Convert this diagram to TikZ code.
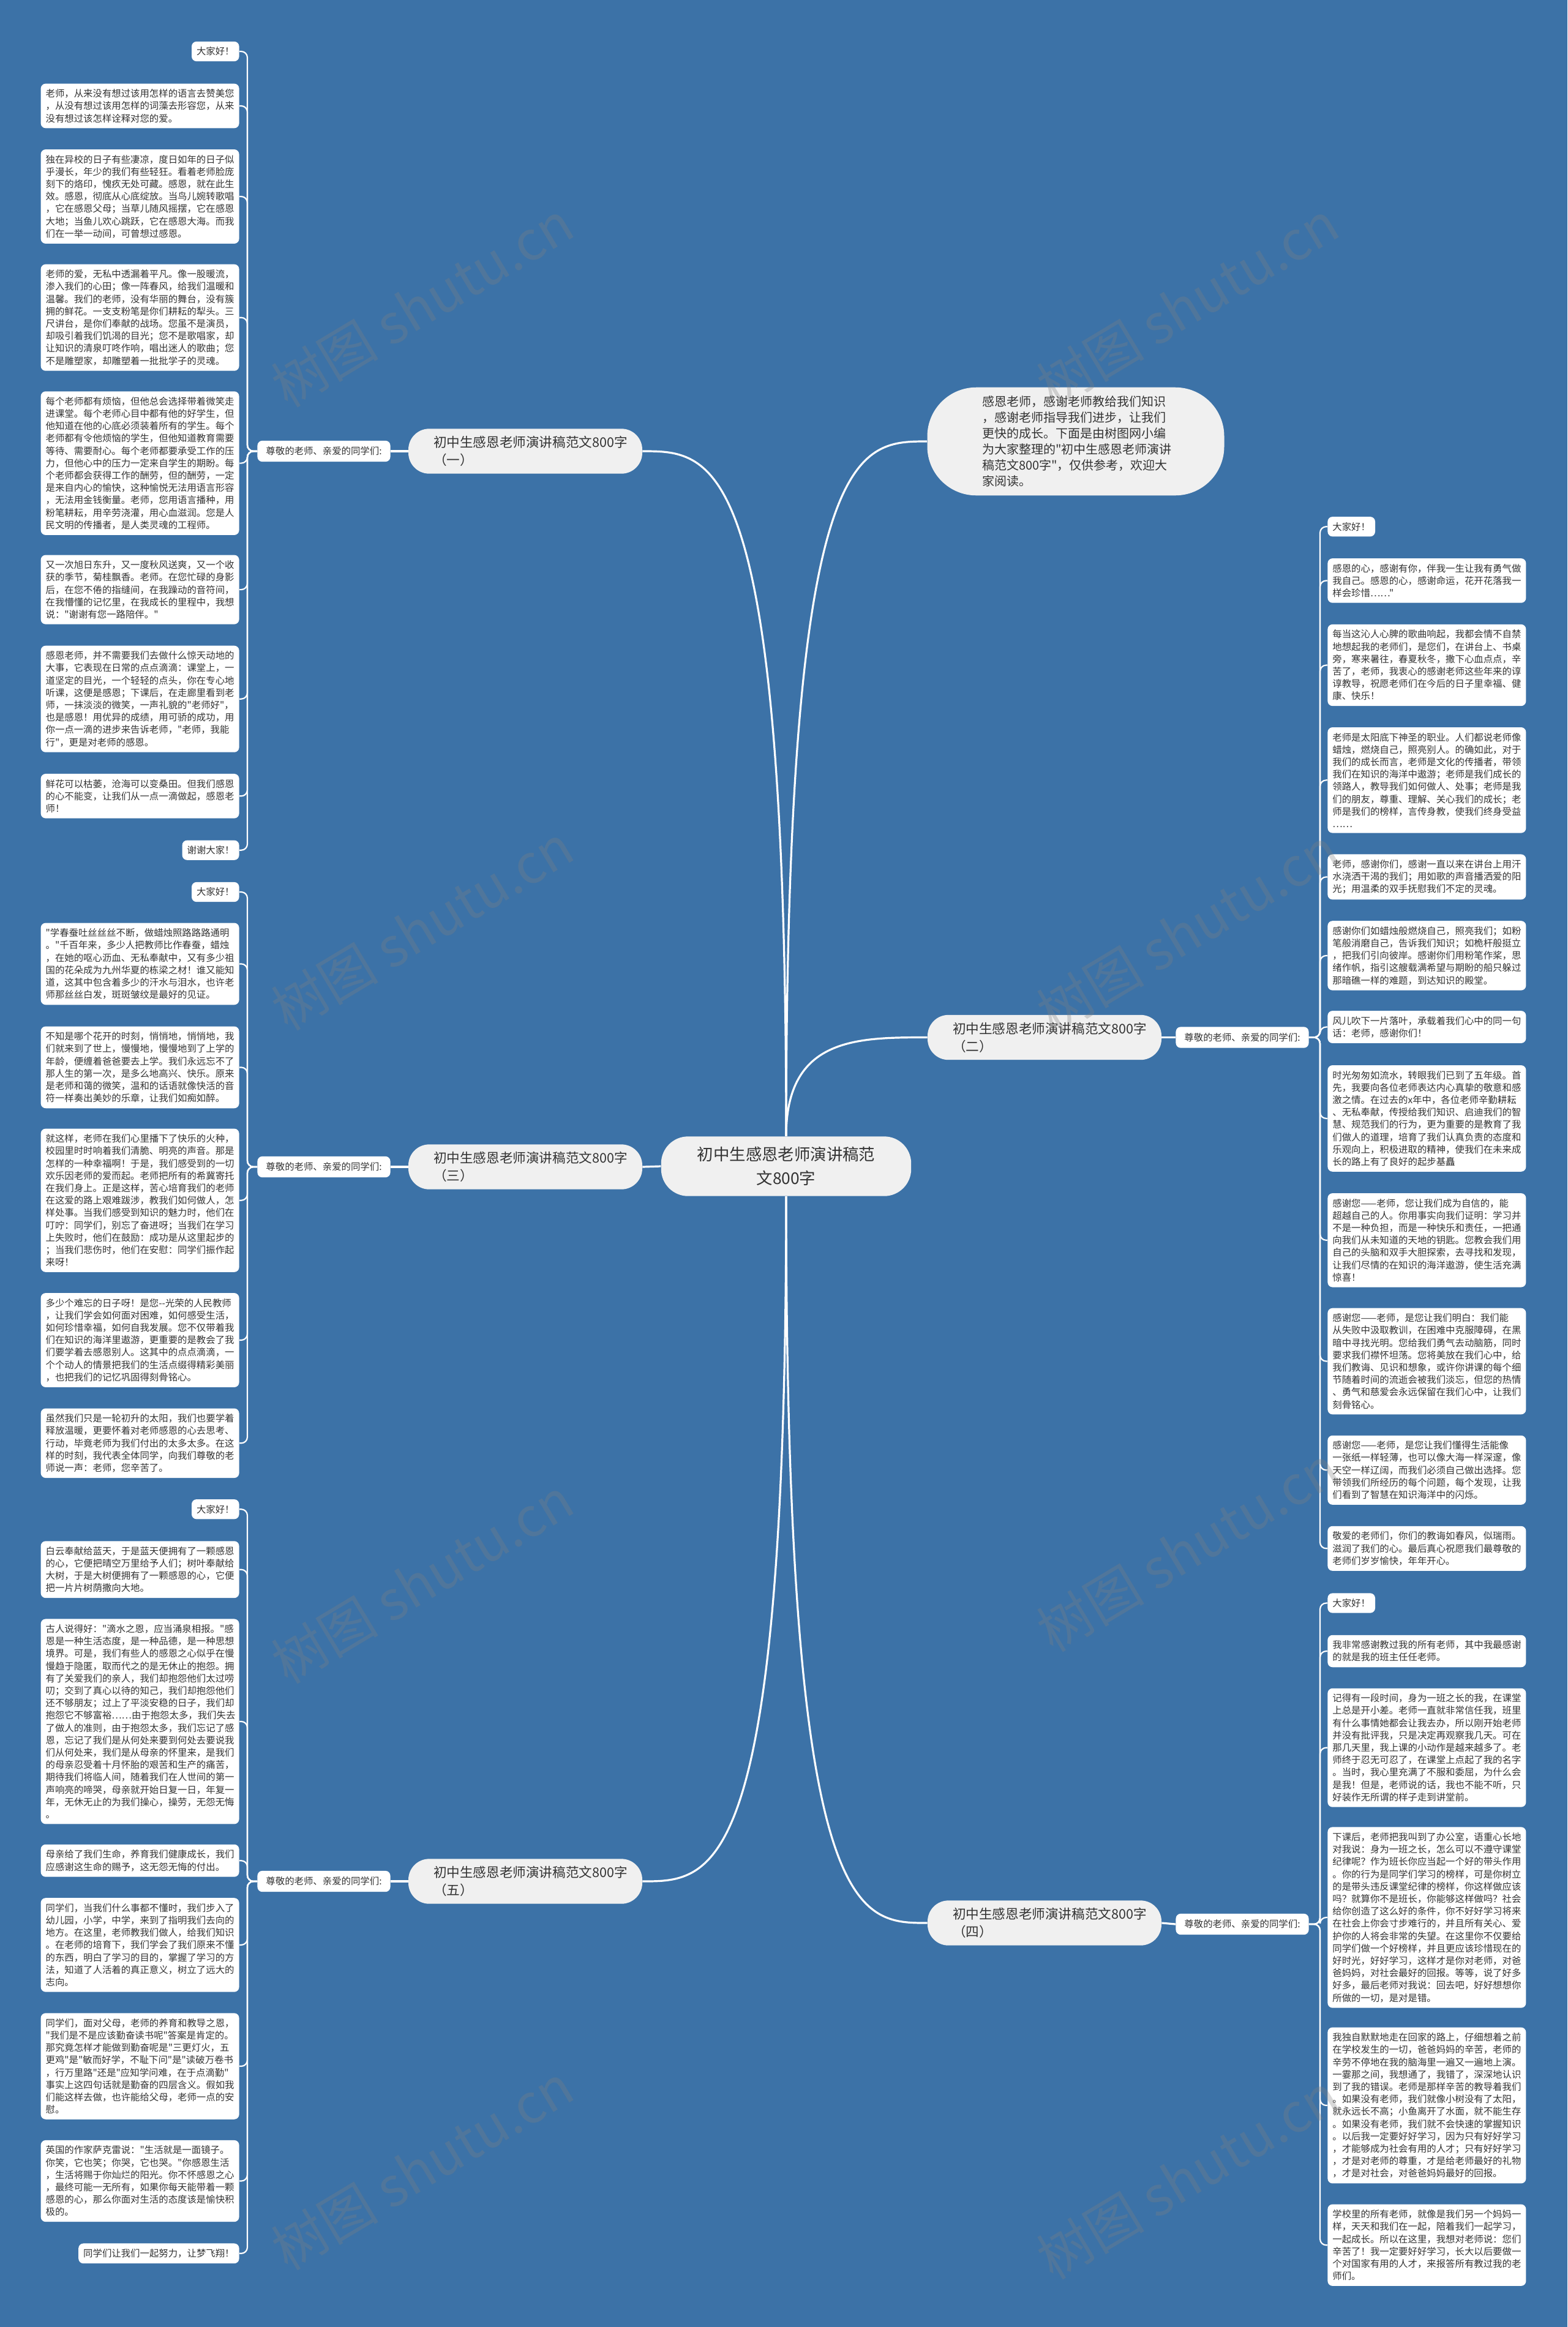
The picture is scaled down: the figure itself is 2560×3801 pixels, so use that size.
\documentclass[tikz,border=0pt]{standalone}
\usepackage{fontspec}
\newfontfamily\cjk{Noto Sans CJK SC}
\usetikzlibrary{calc}
\definecolor{bgblue}{HTML}{3C72A7}
\definecolor{nodegray}{HTML}{F0F0F0}
\definecolor{txt}{HTML}{333333}
\tikzset{
 blk/.style={fill=white, rounded corners=4pt, text width=154pt, align=left, inner xsep=4pt, inner ysep=4.5pt, font=\cjk\fontsize{7.7pt}{10.1pt}\selectfont, text=txt},
 sblk/.style={fill=white, rounded corners=4pt, inner xsep=4pt, inner ysep=4.5pt, font=\cjk\fontsize{7.7pt}{10.1pt}\selectfont, text=txt},
 lab/.style={fill=white, rounded corners=4pt, inner xsep=7pt, inner ysep=5pt, font=\cjk\fontsize{7.7pt}{10.1pt}\selectfont, text=txt},
 brn/.style={fill=nodegray, rounded corners=17pt, text width=150pt, align=left, inner xsep=20.5pt, inner ysep=6pt, font=\cjk\fontsize{10.8pt}{14.5pt}\selectfont, text=txt},
 ctrs/.style={fill=nodegray, rounded corners=22pt, align=center, inner xsep=29.5pt, inner ysep=8.5pt, font=\cjk\fontsize{13.2pt}{19.5pt}\selectfont, text=txt},
 intros/.style={fill=nodegray, rounded corners=40pt, text width=153pt, align=left, inner xsep=44.75pt, inner ysep=7pt, font=\cjk\fontsize{10pt}{13pt}\selectfont, text=txt},
 mc/.style={draw=white, line width=1.6pt},
 bc/.style={draw=white, line width=1.1pt, rounded corners=5pt},
 wm/.style={text=gray, text opacity=0.3, font=\cjk\fontsize{44pt}{50pt}\selectfont, rotate=31},
}
\begin{document}
\begin{tikzpicture}[x=0.5pt, y=-0.5pt]
\path[use as bounding box] (0,0) rectangle (2560,3801);
\fill[bgblue] (0,0) rectangle (2560,3801);

% ---------- center, intro, branches ----------
\node[ctrs] (ctr) at (1284,1905) {初中生感恩老师演讲稿范\\文800字};
\node[intros] (intro) at (1757,721) {感恩老师，感谢老师教给我们知识\\，感谢老师指导我们进步，让我们\\更快的成长。下面是由树图网小编\\为大家整理的"初中生感恩老师演讲\\稿范文800字"，仅供参考，欢迎大\\家阅读。};
\node[brn] (brA) at (858,737) {初中生感恩老师演讲稿范文800字\\（一）};
\node[brn] (brC) at (858,1906) {初中生感恩老师演讲稿范文800字\\（三）};
\node[brn] (brE) at (858,3073) {初中生感恩老师演讲稿范文800字\\（五）};
\node[brn] (brB) at (1706,1694.5) {初中生感恩老师演讲稿范文800字\\（二）};
\node[brn] (brD) at (1706,3141) {初中生感恩老师演讲稿范文800字\\（四）};

\node[lab] (labA) at (529,737) {尊敬的老师、亲爱的同学们:};
\node[lab] (labC) at (529,1906) {尊敬的老师、亲爱的同学们:};
\node[lab] (labE) at (529,3073) {尊敬的老师、亲爱的同学们:};
\node[lab] (labB) at (2029,1694.5) {尊敬的老师、亲爱的同学们:};
\node[lab] (labD) at (2029,3143) {尊敬的老师、亲爱的同学们:};

\coordinate (jA) at (404,737);
\coordinate (jC) at (404,1906);
\coordinate (jE) at (404,3073);
\coordinate (jB) at (2156,1694.5);
\coordinate (jD) at (2156,3143);

% ---------- group A (left, 一) ----------
\node[sblk, anchor=east] (a0) at (391,84) {大家好！};
\node[blk, anchor=east] (a1) at (391,173) {老师，从来没有想过该用怎样的语言去赞美您\\，从没有想过该用怎样的词藻去形容您，从来\\没有想过该怎样诠释对您的爱。};
\node[blk, anchor=east] (a2) at (391,321) {独在异校的日子有些凄凉，度日如年的日子似\\乎漫长，年少的我们有些轻狂。看着老师脸庞\\刻下的烙印，愧疚无处可藏。感恩，就在此生\\效。感恩，彻底从心底绽放。当鸟儿婉转歌唱\\，它在感恩父母；当草儿随风摇摆，它在感恩\\大地；当鱼儿欢心跳跃，它在感恩大海。而我\\们在一举一动间，可曾想过感恩。};
\node[blk, anchor=east] (a3) at (391,518.7) {老师的爱，无私中透漏着平凡。像一股暖流，\\渗入我们的心田；像一阵春风，给我们温暖和\\温馨。我们的老师，没有华丽的舞台，没有簇\\拥的鲜花。一支支粉笔是你们耕耘的犁头。三\\尺讲台，是你们奉献的战场。您虽不是演员，\\却吸引着我们饥渴的目光；您不是歌唱家，却\\让知识的清泉叮咚作响，唱出迷人的歌曲；您\\不是雕塑家，却雕塑着一批批学子的灵魂。};
\node[blk, anchor=east] (a4) at (391,756.6) {每个老师都有烦恼，但他总会选择带着微笑走\\进课堂。每个老师心目中都有他的好学生，但\\他知道在他的心底必须装着所有的学生。每个\\老师都有令他烦恼的学生，但他知道教育需要\\等待、需要耐心。每个老师都要承受工作的压\\力，但他心中的压力一定来自学生的期盼。每\\个老师都会获得工作的酬劳，但的酬劳，一定\\是来自内心的愉快，这种愉悦无法用语言形容\\，无法用金钱衡量。老师，您用语言播种，用\\粉笔耕耘，用辛劳浇灌，用心血滋润。您是人\\民文明的传播者，是人类灵魂的工程师。};
\node[blk, anchor=east] (a5) at (391,963.1) {又一次旭日东升，又一度秋风送爽，又一个收\\获的季节，菊桂飘香。老师。在您忙碌的身影\\后，在您不倦的指缝间，在我躁动的音符间，\\在我懵懂的记忆里，在我成长的里程中，我想\\说："谢谢有您一路陪伴。"};
\node[blk, anchor=east] (a6) at (391,1141.7) {感恩老师，并不需要我们去做什么惊天动地的\\大事，它表现在日常的点点滴滴：课堂上，一\\道坚定的目光，一个轻轻的点头，你在专心地\\听课，这便是感恩；下课后，在走廊里看到老\\师，一抹淡淡的微笑，一声礼貌的"老师好"，\\也是感恩！用优异的成绩，用可骄的成功，用\\你一点一滴的进步来告诉老师，"老师，我能\\行"，更是对老师的感恩。};
\node[blk, anchor=east] (a7) at (391,1300.3) {鲜花可以枯萎，沧海可以变桑田。但我们感恩\\的心不能变，让我们从一点一滴做起，感恩老\\师！};
\node[sblk, anchor=east] (a8) at (391,1388.7) {谢谢大家！};

% ---------- group C (left, 三) ----------
\node[sblk, anchor=east] (c0) at (391,1457) {大家好！};
\node[blk, anchor=east] (c1) at (391,1574.4) {"学春蚕吐丝丝丝不断，做蜡烛照路路路通明\\。"千百年来，多少人把教师比作春蚕，蜡烛\\，在她的呕心沥血、无私奉献中，又有多少祖\\国的花朵成为九州华夏的栋梁之材！谁又能知\\道，这其中包含着多少的汗水与泪水，也许老\\师那丝丝白发，斑斑皱纹是最好的见证。};
\node[blk, anchor=east] (c2) at (391,1743.4) {不知是哪个花开的时刻，悄悄地，悄悄地，我\\们就来到了世上，慢慢地，慢慢地到了上学的\\年龄，便缠着爸爸要去上学。我们永远忘不了\\那人生的第一次，是多么地高兴、快乐。原来\\是老师和蔼的微笑，温和的话语就像快活的音\\符一样奏出美妙的乐章，让我们如痴如醉。};
\node[blk, anchor=east] (c3) at (391,1960.7) {就这样，老师在我们心里播下了快乐的火种，\\校园里时时响着我们清脆、明亮的声音。那是\\怎样的一种幸福啊！于是，我们感受到的一切\\欢乐因老师的爱而起。老师把所有的希冀寄托\\在我们身上。正是这样，苦心培育我们的老师\\在这爱的路上艰难跋涉，教我们如何做人，怎\\样处事。当我们感受到知识的魅力时，他们在\\叮咛：同学们，别忘了奋进呀；当我们在学习\\上失败时，他们在鼓励：成功是从这里起步的\\；当我们悲伤时，他们在安慰：同学们振作起\\来呀！};
\node[blk, anchor=east] (c4) at (391,2189) {多少个难忘的日子呀！是您--光荣的人民教师\\，让我们学会如何面对困难，如何感受生活，\\如何珍惜幸福，如何自我发展。您不仅带着我\\们在知识的海洋里遨游，更重要的是教会了我\\们要学着去感恩别人。这其中的点点滴滴，一\\个个动人的情景把我们的生活点缀得精彩美丽\\，也把我们的记忆巩固得刻骨铭心。};
\node[blk, anchor=east] (c5) at (391,2357.3) {虽然我们只是一轮初升的太阳，我们也要学着\\释放温暖，更要怀着对老师感恩的心去思考、\\行动，毕竟老师为我们付出的太多太多。在这\\样的时刻，我代表全体同学，向我们尊敬的老\\师说一声：老师，您辛苦了。};

% ---------- group E (left, 五) ----------
\node[sblk, anchor=east] (e0) at (391,2465.2) {大家好！};
\node[blk, anchor=east] (e1) at (391,2563.7) {白云奉献给蓝天，于是蓝天便拥有了一颗感恩\\的心，它便把晴空万里给予人们；树叶奉献给\\大树，于是大树便拥有了一颗感恩的心，它便\\把一片片树荫撒向大地。};
\node[blk, anchor=east] (e2) at (391,2811.9) {古人说得好："滴水之恩，应当涌泉相报。"感\\恩是一种生活态度，是一种品德，是一种思想\\境界。可是，我们有些人的感恩之心似乎在慢\\慢趋于隐匿，取而代之的是无休止的抱怨。拥\\有了关爱我们的亲人，我们却抱怨他们太过唠\\叨；交到了真心以待的知己，我们却抱怨他们\\还不够朋友；过上了平淡安稳的日子，我们却\\抱怨它不够富裕……由于抱怨太多，我们失去\\了做人的准则，由于抱怨太多，我们忘记了感\\恩，忘记了我们是从何处来要到何处去要说我\\们从何处来，我们是从母亲的怀里来，是我们\\的母亲忍受着十月怀胎的艰苦和生产的痛苦，\\期待我们将临人间，随着我们在人世间的第一\\声响亮的啼哭，母亲就开始日复一日，年复一\\年，无休无止的为我们操心，操劳，无怨无悔\\。};
\node[blk, anchor=east] (e3) at (391,3039.2) {母亲给了我们生命，养育我们健康成长，我们\\应感谢这生命的赐予，这无怨无悔的付出。};
\node[blk, anchor=east] (e4) at (391,3176.9) {同学们，当我们什么事都不懂时，我们步入了\\幼儿园，小学，中学，来到了指明我们去向的\\地方。在这里，老师教我们做人，给我们知识\\。在老师的培育下，我们学会了我们原来不懂\\的东西，明白了学习的目的，掌握了学习的方\\法，知道了人活着的真正意义，树立了远大的\\志向。};
\node[blk, anchor=east] (e5) at (391,3375) {同学们，面对父母，老师的养育和教导之恩，\\"我们是不是应该勤奋读书呢"答案是肯定的。\\那究竟怎样才能做到勤奋呢是"三更灯火，五\\更鸡"是"敏而好学，不耻下问"是"读破万卷书\\，行万里路"还是"应知学问难，在于点滴勤"\\事实上这四句话就是勤奋的四层含义。假如我\\们能这样去做，也许能给父母，老师一点的安\\慰。};
\node[blk, anchor=east] (e6) at (391,3562.5) {英国的作家萨克雷说："生活就是一面镜子。\\你笑，它也笑；你哭，它也哭。"你感恩生活\\，生活将赐于你灿烂的阳光。你不怀感恩之心\\，最终可能一无所有，如果你每天能带着一颗\\感恩的心，那么你面对生活的态度该是愉快积\\极的。};
\node[sblk, anchor=east] (e7) at (391,3680.8) {同学们让我们一起努力，让梦飞翔！};

% ---------- group B (right, 二) ----------
\node[sblk, anchor=west] (b0) at (2168,860.2) {大家好！};
\node[blk, anchor=west] (b1) at (2168,948.4) {感恩的心，感谢有你，伴我一生让我有勇气做\\我自己。感恩的心，感谢命运，花开花落我一\\样会珍惜……"};
\node[blk, anchor=west] (b2) at (2168,1086.5) {每当这沁人心脾的歌曲响起，我都会情不自禁\\地想起我的老师们，是您们，在讲台上、书桌\\旁，寒来暑往，春夏秋冬，撒下心血点点，辛\\苦了，老师，我衷心的感谢老师这些年来的谆\\谆教导，祝愿老师们在今后的日子里幸福、健\\康、快乐！};
\node[blk, anchor=west] (b3) at (2168,1274.3) {老师是太阳底下神圣的职业。人们都说老师像\\蜡烛，燃烧自己，照亮别人。的确如此，对于\\我们的成长而言，老师是文化的传播者，带领\\我们在知识的海洋中遨游；老师是我们成长的\\领路人，教导我们如何做人、处事；老师是我\\们的朋友，尊重、理解、关心我们的成长；老\\师是我们的榜样，言传身教，使我们终身受益\\……};
\node[blk, anchor=west] (b4) at (2168,1432.4) {老师，感谢你们，感谢一直以来在讲台上用汗\\水浇洒干渴的我们；用如歌的声音播洒爱的阳\\光；用温柔的双手抚慰我们不定的灵魂。};
\node[blk, anchor=west] (b5) at (2168,1560.9) {感谢你们如蜡烛般燃烧自己，照亮我们；如粉\\笔般消磨自己，告诉我们知识；如桅杆般挺立\\，把我们引向彼岸。感谢你们用粉笔作桨，思\\绪作帆，指引这艘载满希望与期盼的船只躲过\\那暗礁一样的难题，到达知识的殿堂。};
\node[blk, anchor=west] (b6) at (2168,1677.5) {风儿吹下一片落叶，承载着我们心中的同一句\\话：老师，感谢你们！};
\node[blk, anchor=west] (b7) at (2168,1826.9) {时光匆匆如流水，转眼我们已到了五年级。首\\先，我要向各位老师表达内心真挚的敬意和感\\激之情。在过去的x年中，各位老师辛勤耕耘\\、无私奉献，传授给我们知识、启迪我们的智\\慧、规范我们的行为，更为重要的是教育了我\\们做人的道理，培育了我们认真负责的态度和\\乐观向上，积极进取的精神，使我们在未来成\\长的路上有了良好的起步基矗};
\node[blk, anchor=west] (b8) at (2168,2025.8) {感谢您——老师，您让我们成为自信的，能\\超越自己的人。你用事实向我们证明：学习并\\不是一种负担，而是一种快乐和责任，一把通\\向我们从未知道的天地的钥匙。您教会我们用\\自己的头脑和双手大胆探索，去寻找和发现，\\让我们尽情的在知识的海洋遨游，使生活充满\\惊喜！};
\node[blk, anchor=west] (b9) at (2168,2223.5) {感谢您——老师，是您让我们明白：我们能\\从失败中汲取教训，在困难中克服障碍，在黑\\暗中寻找光明。您给我们勇气去动脑筋，同时\\要求我们襟怀坦荡。您将美放在我们心中，给\\我们教诲、见识和想象，或许你讲课的每个细\\节随着时间的流逝会被我们淡忘，但您的热情\\、勇气和慈爱会永远保留在我们心中，让我们\\刻骨铭心。};
\node[blk, anchor=west] (b10) at (2168,2401.3) {感谢您——老师，是您让我们懂得生活能像\\一张纸一样轻薄，也可以像大海一样深邃，像\\天空一样辽阔，而我们必须自己做出选择。您\\带领我们所经历的每个问题，每个发现，让我\\们看到了智慧在知识海洋中的闪烁。};
\node[blk, anchor=west] (b11) at (2168,2529.3) {敬爱的老师们，你们的教诲如春风，似瑞雨。\\滋润了我们的心。最后真心祝愿我们最尊敬的\\老师们岁岁愉快，年年开心。};

% ---------- group D (right, 四) ----------
\node[sblk, anchor=west] (d0) at (2168,2618.5) {大家好！};
\node[blk, anchor=west] (d1) at (2168,2697) {我非常感谢教过我的所有老师，其中我最感谢\\的就是我的班主任任老师。};
\node[blk, anchor=west] (d2) at (2168,2854.7) {记得有一段时间，身为一班之长的我，在课堂\\上总是开小差。老师一直就非常信任我，班里\\有什么事情她都会让我去办，所以刚开始老师\\并没有批评我，只是决定再观察我几天。可在\\那几天里，我上课的小动作是越来越多了。老\\师终于忍无可忍了，在课堂上点起了我的名字\\。当时，我心里充满了不服和委屈，为什么会\\是我！但是，老师说的话，我也不能不听，只\\好装作无所谓的样子走到讲堂前。};
\node[blk, anchor=west] (d3) at (2168,3132) {下课后，老师把我叫到了办公室，语重心长地\\对我说：身为一班之长，怎么可以不遵守课堂\\纪律呢？作为班长你应当起一个好的带头作用\\。你的行为是同学们学习的榜样，可是你树立\\的是带头违反课堂纪律的榜样，你这样做应该\\吗？就算你不是班长，你能够这样做吗？社会\\给你创造了这么好的条件，你不好好学习将来\\在社会上你会寸步难行的，并且所有关心、爱\\护你的人将会非常的失望。在这里你不仅要给\\同学们做一个好榜样，并且更应该珍惜现在的\\好时光，好好学习，这样才是你对老师，对爸\\爸妈妈，对社会最好的回报。等等，说了好多\\好多，最后老师对我说：回去吧，好好想想你\\所做的一切，是对是错。};
\node[blk, anchor=west] (d4) at (2168,3439) {我独自默默地走在回家的路上，仔细想着之前\\在学校发生的一切，爸爸妈妈的辛苦，老师的\\辛劳不停地在我的脑海里一遍又一遍地上演。\\一霎那之间，我想通了，我错了，深深地认识\\到了我的错误。老师是那样辛苦的教导着我们\\。如果没有老师，我们就像小树没有了太阳，\\就永远长不高；小鱼离开了水面，就不能生存\\。如果没有老师，我们就不会快速的掌握知识\\。以后我一定要好好学习，因为只有好好学习\\，才能够成为社会有用的人才；只有好好学习\\，才是对老师的尊重，才是给老师最好的礼物\\，才是对社会，对爸爸妈妈最好的回报。};
\node[blk, anchor=west] (d5) at (2168,3667.2) {学校里的所有老师，就像是我们另一个妈妈一\\样，天天和我们在一起，陪着我们一起学习，\\一起成长。所以在这里，我想对老师说：您们\\辛苦了！我一定要好好学习，长大以后要做一\\个对国家有用的人才，来报答所有教过我的老\\师们。};

% ---------- connectors ----------
\draw[mc] (ctr.north) .. controls (ctr.north |- brA.east) and ($(ctr.north |- brA.east)!0.5!(brA.east)$) .. (brA.east);
\draw[mc] (ctr.north) .. controls (ctr.north |- intro.west) and ($(ctr.north |- intro.west)!0.5!(intro.west)$) .. (intro.west);
\draw[mc] (ctr.north) .. controls (ctr.north |- brB.west) and ($(ctr.north |- brB.west)!0.5!(brB.west)$) .. (brB.west);
\draw[mc] (ctr.south) .. controls (ctr.south |- brE.east) and ($(ctr.south |- brE.east)!0.5!(brE.east)$) .. (brE.east);
\draw[mc] (ctr.south) .. controls (ctr.south |- brD.west) and ($(ctr.south |- brD.west)!0.5!(brD.west)$) .. (brD.west);
\draw[mc] (ctr.west) -- (brC.east);

\draw[mc] (brA.west) -- (labA.east);
\draw[mc] (brC.west) -- (labC.east);
\draw[mc] (brE.west) -- (labE.east);
\draw[mc] (brB.east) -- (labB.west);
\draw[mc] (brD.east) -- (labD.west);

\foreach \n in {a0,a1,a2,a3,a4,a5,a6,a7,a8}
  \draw[bc] (labA.west) -- (jA) |- (\n.east);
\foreach \n in {c0,c1,c2,c3,c4,c5}
  \draw[bc] (labC.west) -- (jC) |- (\n.east);
\foreach \n in {e0,e1,e2,e3,e4,e5,e6,e7}
  \draw[bc] (labE.west) -- (jE) |- (\n.east);
\foreach \n in {b0,b1,b2,b3,b4,b5,b6,b7,b8,b9,b10,b11}
  \draw[bc] (labB.east) -- (jB) |- (\n.west);
\foreach \n in {d0,d1,d2,d3,d4,d5}
  \draw[bc] (labD.east) -- (jD) |- (\n.west);

% ---------- watermarks ----------
\node[wm] (w1) at (690,497) {树图 shutu.cn};
\node[wm] (w2) at (1940,497) {树图 shutu.cn};
\node[wm] (w3) at (690,1515) {树图 shutu.cn};
\node[wm] (w4) at (1940,1520) {树图 shutu.cn};
\node[wm] (w5) at (690,2582) {树图 shutu.cn};
\node[wm] (w6) at (1940,2530) {树图 shutu.cn};
\node[wm] (w7) at (690,3540) {树图 shutu.cn};
\node[wm] (w8) at (1940,3555) {树图 shutu.cn};
\end{tikzpicture}
\end{document}
